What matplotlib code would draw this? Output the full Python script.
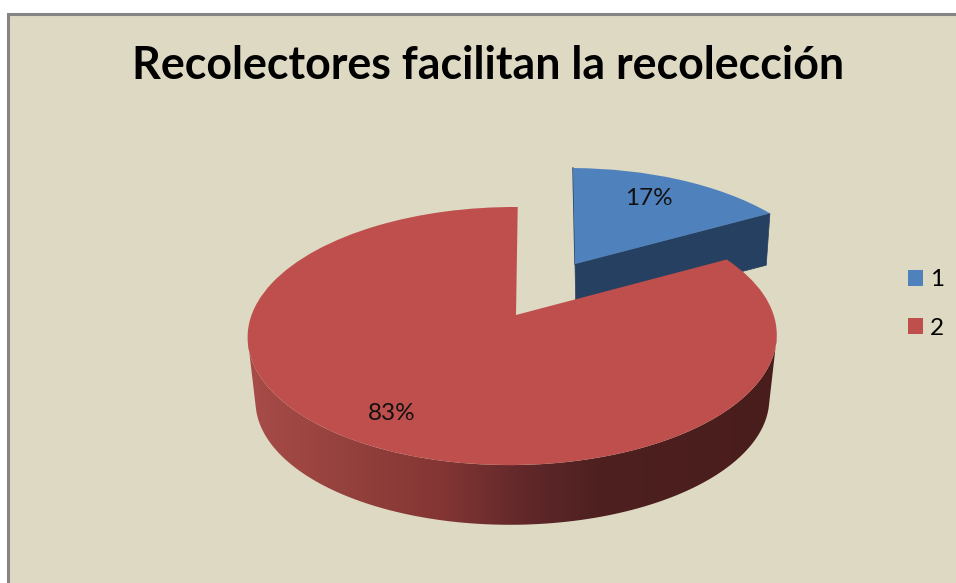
import numpy as np
import matplotlib
matplotlib.use("Agg")
import matplotlib.pyplot as plt
from matplotlib.colors import LinearSegmentedColormap
from matplotlib.patches import Rectangle, Polygon
from matplotlib.transforms import Transform

title = "Recolectores facilitan la recolección"
categories = ["1", "2"]
values = [17, 83]
colors = ["#4F81BD", "#BE4F4C"]
wall_blue = "#254061"

W, H = 956, 583
plt.rcParams["font.family"] = ["Lato", "DejaVu Sans"]


class Persp(Transform):
    """Projects the unit pie plane to picture pixels with perspective."""
    input_dims = output_dims = 2
    is_separable = False
    has_inverse = False

    def __init__(self, x0, y0, bx, by, k, m=0.013, e=2.0):
        super().__init__()
        self.p = (x0, y0, bx, by, k, m, e)

    def transform_non_affine(self, xy):
        x0, y0, bx, by, k, m, e = self.p
        xy = np.asarray(xy, float)
        u, v = xy[:, 0], xy[:, 1]
        w = 1 + k * v + m * u
        return np.column_stack([x0 + (bx * u + e * v) / w, y0 - by * v / w])


red_top = Persp(516, 315, 261, 125.6, 0.163)
red_bot = Persp(516, 385, 255, 123, 0.12)
blue_top = Persp(575, 264, 251, 118, 0.23, e=-2.5)
blue_bot = Persp(576, 315, 245, 116, 0.23, e=-2.5)

fig = plt.figure(figsize=(W / 100, H / 100), dpi=100, facecolor="white")
ax = fig.add_axes([0, 0, 1, 1])

wedges, _ = ax.pie(values, colors=colors, startangle=90, counterclock=False,
                   wedgeprops=dict(linewidth=0))
ax.set_aspect("auto")
ax.axis("off")

ax.add_patch(Rectangle((8.5, 13.5), W, H, facecolor="#DDD9C3", edgecolor="#858585",
                       linewidth=2.2, zorder=0))

fracs = np.cumsum(values) / np.sum(values)
split = fracs[0] * 2 * np.pi


def rim(t):
    return np.column_stack([np.sin(t), np.cos(t)])


# blue slice: cut face and thin left face
corner = rim(np.array([split]))
origin = np.array([[0.0, 0.0]])
ax.add_patch(Polygon(np.vstack([blue_top.transform(origin), blue_top.transform(corner),
                                blue_bot.transform(corner), blue_bot.transform(origin)]),
                     closed=True, facecolor=wall_blue, edgecolor=wall_blue, lw=0.5, zorder=1))
top_corner = rim(np.array([0.0]))
edge = np.vstack([blue_top.transform(top_corner), blue_top.transform(origin)])
ax.plot(edge[:, 0], edge[:, 1], color=wall_blue, lw=1.0, zorder=1)

# red slice: shaded outer wall, a horizontal gradient clipped to the wall outline
wall_cmap = LinearSegmentedColormap.from_list(
    "wall", [(0.0, "#A84C48"), (0.2, "#93403C"), (0.36, "#843634"),
             (0.52, "#62282A"), (0.66, "#4E2020"), (1.0, "#4A1D1D")])
t = np.radians(np.linspace(100, 260, 400))
outline = np.vstack([red_top.transform(rim(t)), red_bot.transform(rim(t))[::-1]])
wall = Polygon(outline, closed=True, transform=ax.transData, facecolor="none", edgecolor="none")
ax.add_patch(wall)
img = ax.imshow(np.linspace(0, 1, 256)[None, :], cmap=wall_cmap, extent=(248, 778, 530, 300),
                aspect="auto", zorder=1, interpolation="bilinear")
img.set_clip_path(wall)

ax.set_xlim(0, W)
ax.set_ylim(H, 0)

# slice tops come from the pie itself
wedges[0].set_transform(blue_top + ax.transData)
wedges[1].set_transform(red_top + ax.transData)
wedges[0].set_zorder(2)
wedges[1].set_zorder(3)

ax.text(649, 198.5, f"{values[0]}%", ha="center", va="center", fontsize=17.5, color="#111111", zorder=5)
ax.text(392, 413, f"{values[1]}%", ha="center", va="center", fontsize=17.5, color="#111111", zorder=5)

ax.text(488, 66, title, ha="center", va="center", fontsize=32.2, fontweight="bold", color="black", zorder=5)

leg = ax.legend(wedges, categories, loc="center left", bbox_to_anchor=(908 / W, 1 - 304 / H),
                frameon=False, fontsize=17.5, handlelength=0.6, handleheight=0.6,
                handletextpad=0.3, labelspacing=1.12, borderpad=0, borderaxespad=0)
leg.set_zorder(6)

fig.savefig("out.png", dpi=100)
